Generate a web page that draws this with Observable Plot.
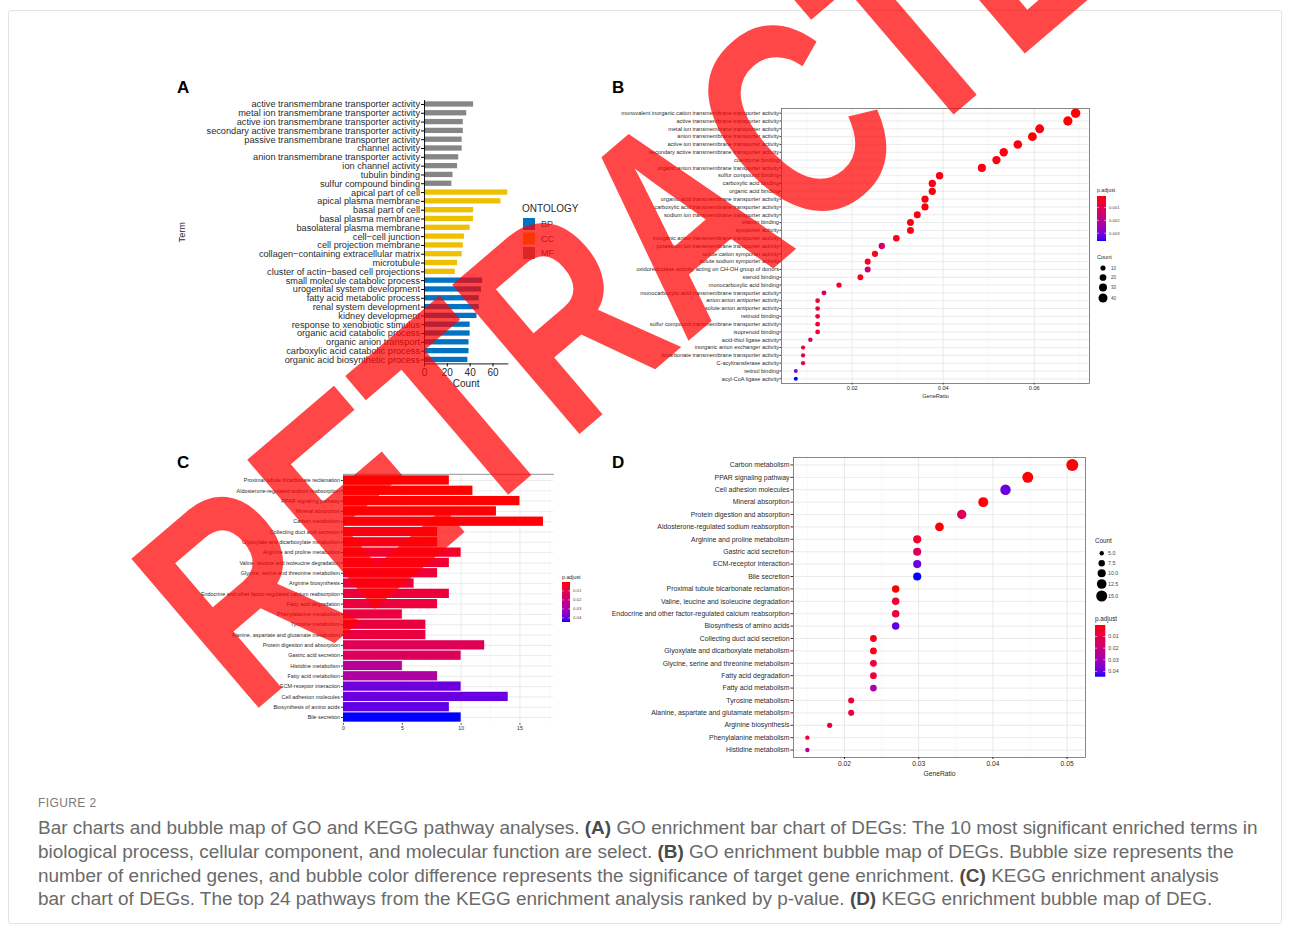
<!DOCTYPE html>
<html>
<head>
<meta charset="utf-8">
<script src="https://cdn.jsdelivr.net/npm/d3@7"></script>
<script src="https://cdn.jsdelivr.net/npm/@observablehq/plot@0.6"></script>
<style>
  body { margin: 0; background: #fff; }
  #root { position: relative; width: 1291px; height: 930px; overflow: hidden; background: #fff;
          font-family: "Liberation Sans", Arial, Helvetica, sans-serif; }
  #card { position: absolute; left: 8px; top: 10px; width: 1274px; height: 914px; border: 1px solid #e3e3e3; border-radius: 3px; box-sizing: border-box; }
  #figlabel { position: absolute; left: 38px; top: 796px; font-size: 12px; color: #7b7b7b; letter-spacing: 0.4px; }
  #caption { position: absolute; left: 38px; top: 816px; color: #6a6a6a; line-height: 23.8px; white-space: nowrap; }
  #caption b { color: #4a4a4a; }
</style>
</head>
<body>
<div id="root"><div id="card"></div></div>
<script>
// ---------------- DATA ----------------
// Panel A: GO enrichment bar chart (top to bottom)
const goTerms = [
  "active transmembrane transporter activity",
  "metal ion transmembrane transporter activity",
  "active ion transmembrane transporter activity",
  "secondary active transmembrane transporter activity",
  "passive transmembrane transporter activity",
  "channel activity",
  "anion transmembrane transporter activity",
  "ion channel activity",
  "tubulin binding",
  "sulfur compound binding",
  "apical part of cell",
  "apical plasma membrane",
  "basal part of cell",
  "basal plasma membrane",
  "basolateral plasma membrane",
  "cell\u2212cell junction",
  "cell projection membrane",
  "collagen\u2212containing extracellular matrix",
  "microtubule",
  "cluster of actin\u2212based cell projections",
  "small molecule catabolic process",
  "urogenital system development",
  "fatty acid metabolic process",
  "renal system development",
  "kidney development",
  "response to xenobiotic stimulus",
  "organic acid catabolic process",
  "organic anion transport",
  "carboxylic acid catabolic process",
  "organic acid biosynthetic process"
];
const goCounts = [43,37,34,34,33,33,30,29,25,24, 73,67,43,43,40,35,34,33,29,27, 51,50,48,48,46,40,40,39,39,38];
const goOntology = ["MF","MF","MF","MF","MF","MF","MF","MF","MF","MF",
                    "CC","CC","CC","CC","CC","CC","CC","CC","CC","CC",
                    "BP","BP","BP","BP","BP","BP","BP","BP","BP","BP"];
const ontLevels = ["BP","CC","MF"];
const ontColors = ["#0073C2","#EFC000","#868686"];
const countTicksA = [0,20,40,60];

// Panel B: GO (MF) bubble map (top to bottom)
const mfTerms = [
  "monovalent inorganic cation transmembrane transporter activity",
  "active transmembrane transporter activity",
  "metal ion transmembrane transporter activity",
  "anion transmembrane transporter activity",
  "active ion transmembrane transporter activity",
  "secondary active transmembrane transporter activity",
  "coenzyme binding",
  "organic anion transmembrane transporter activity",
  "sulfur compound binding",
  "carboxylic acid binding",
  "organic acid binding",
  "organic acid transmembrane transporter activity",
  "carboxylic acid transmembrane transporter activity",
  "sodium ion transmembrane transporter activity",
  "vitamin binding",
  "symporter activity",
  "inorganic anion transmembrane transporter activity",
  "potassium ion transmembrane transporter activity",
  "solute:cation symporter activity",
  "solute:sodium symporter activity",
  "oxidoreductase activity, acting on CH-OH group of donors",
  "steroid binding",
  "monocarboxylic acid binding",
  "monocarboxylic acid transmembrane transporter activity",
  "anion:anion antiporter activity",
  "solute:anion antiporter activity",
  "retinoid binding",
  "sulfur compound transmembrane transporter activity",
  "isoprenoid binding",
  "acid-thiol ligase activity",
  "inorganic anion exchanger activity",
  "bicarbonate transmembrane transporter activity",
  "C-acyltransferase activity",
  "retinol binding",
  "acyl-CoA ligase activity"
];
const mfRatio = [0.0691,0.0674,0.0612,0.0596,0.0564,0.0533,0.0517,0.0485,0.0392,0.0376,0.0376,0.0360,0.0360,0.0343,0.0328,0.0328,0.0297,0.0265,0.0250,0.0234,0.0234,0.0218,0.0171,0.0138,0.0124,0.0124,0.0124,0.0124,0.0124,0.0108,0.0092,0.0092,0.0092,0.0076,0.0076];
const mfCount = [44,43,39,38,36,34,33,31,25,24,24,23,23,22,21,21,19,17,16,15,15,14,11,9,8,8,8,8,8,7,6,6,6,5,5];
const mfPadj  = [0.0001,0.0001,0.0002,0.0001,0.0002,0.0002,0.0002,0.0002,0.0002,0.0002,0.0002,0.0002,0.0002,0.0002,0.0002,0.0002,0.0003,0.0013,0.0003,0.0003,0.0015,0.0003,0.0004,0.0014,0.0006,0.0006,0.0006,0.0006,0.0006,0.0013,0.0006,0.0011,0.0011,0.0027,0.0036];
const ratioTicksB = [0.02,0.04,0.06];
const ratioMinorB = [0.01,0.03,0.05,0.07];
const padjTicksB = [0.001,0.002,0.003];
const countLegendB = [10,20,30,40];

// Panel C: KEGG bar chart (top to bottom, ranked by p-value)
const keggTerms = [
  "Proximal tubule bicarbonate reclamation",
  "Aldosterone-regulated sodium reabsorption",
  "PPAR signaling pathway",
  "Mineral absorption",
  "Carbon metabolism",
  "Collecting duct acid secretion",
  "Glyoxylate and dicarboxylate metabolism",
  "Arginine and proline metabolism",
  "Valine, leucine and isoleucine degradation",
  "Glycine, serine and threonine metabolism",
  "Arginine biosynthesis",
  "Endocrine and other factor-regulated calcium reabsorption",
  "Fatty acid degradation",
  "Phenylalanine metabolism",
  "Tyrosine metabolism",
  "Alanine, aspartate and glutamate metabolism",
  "Protein digestion and absorption",
  "Gastric acid secretion",
  "Histidine metabolism",
  "Fatty acid metabolism",
  "ECM-receptor interaction",
  "Cell adhesion molecules",
  "Biosynthesis of amino acids",
  "Bile secretion"
];
const keggCount = [9,11,15,13,17,8,8,10,9,8,6,9,8,5,7,7,12,10,5,8,10,14,9,10];
const keggPadj  = [0.0001,0.0002,0.0003,0.0005,0.0006,0.0015,0.0018,0.0045,0.0055,0.0065,0.0070,0.0072,0.0075,0.0078,0.0080,0.0082,0.0125,0.0135,0.0250,0.0270,0.0385,0.0390,0.0400,0.0445];
const countTicksC = [0,5,10,15];
const countMinorC = [2.5,7.5,12.5,17.5];
const padjTicksK = [0.01,0.02,0.03,0.04];

// Panel D: KEGG bubble map (top to bottom)
const keggDotTerms = [
  "Carbon metabolism",
  "PPAR signaling pathway",
  "Cell adhesion molecules",
  "Mineral absorption",
  "Protein digestion and absorption",
  "Aldosterone-regulated sodium reabsorption",
  "Arginine and proline metabolism",
  "Gastric acid secretion",
  "ECM-receptor interaction",
  "Bile secretion",
  "Proximal tubule bicarbonate reclamation",
  "Valine, leucine and isoleucine degradation",
  "Endocrine and other factor-regulated calcium reabsorption",
  "Biosynthesis of amino acids",
  "Collecting duct acid secretion",
  "Glyoxylate and dicarboxylate metabolism",
  "Glycine, serine and threonine metabolism",
  "Fatty acid degradation",
  "Fatty acid metabolism",
  "Tyrosine metabolism",
  "Alanine, aspartate and glutamate metabolism",
  "Arginine biosynthesis",
  "Phenylalanine metabolism",
  "Histidine metabolism"
];
const keggDotRatio = [0.0507,0.0447,0.0417,0.0387,0.0358,0.0328,0.0298,0.0298,0.0298,0.0298,0.0269,0.0269,0.0269,0.0269,0.0239,0.0239,0.0239,0.0239,0.0239,0.0209,0.0209,0.0180,0.0150,0.0150];
const ratioTicksD = [0.02,0.03,0.04,0.05];
const ratioMinorD = [0.015,0.025,0.035,0.045];
const countLegendD = [5,7.5,10,12.5,15];

// ---------------- BUILD ----------------
const font = "'Liberation Sans', Arial, Helvetica, sans-serif";
const root = document.getElementById("root");
const txt = "#2b2b2b";
function place(node, left, top) {
  node.style.position = "absolute";
  node.style.left = left + "px";
  node.style.top = top + "px";
  node.style.overflow = "visible";
  root.appendChild(node);
  return node;
}
const baseStyle = (fs) => ({fontFamily: font, fontSize: fs + "px", color: txt, background: "transparent", overflow: "visible"});

// ---- A ----
const dataA = goTerms.map((term, i) => ({term, count: goCounts[i], ont: goOntology[i]}));
const plotA = Plot.plot({
  width: 345, height: 300,
  marginLeft: 249, marginRight: 12.7, marginTop: 5, marginBottom: 31.6,
  style: baseStyle(9.2),
  x: {domain: [0, 73]},
  y: {domain: goTerms, paddingInner: 0.4, paddingOuter: 0.15, round: false},
  color: {domain: ontLevels, range: ontColors},
  marks: [
    Plot.barX(dataA, {x: "count", y: "term", fill: "ont"}),
    Plot.ruleX([0], {stroke: "#000", strokeWidth: 0.9}),
    Plot.frame({anchor: "bottom", stroke: "#000", strokeWidth: 0.9}),
    Plot.axisY({tickSize: 3, tickPadding: 1.5, fontSize: 9.2, stroke: "#000", label: "Term", labelAnchor: "center", labelOffset: 246, labelArrow: "none"}),
    Plot.axisX({ticks: countTicksA, tickSize: 3, tickPadding: 1.5, fontSize: 10, stroke: "#000", label: "Count", labelAnchor: "center", labelOffset: 23, labelArrow: "none"})
  ]
});
place(plotA, 175, 95);

// ---- B ----
const pDomainB = d3.extent(mfPadj);
const rOptsB = {type: "sqrt", domain: [5, 44], range: [2, 4.7]};
const dataB = mfTerms.map((term, i) => ({term, ratio: mfRatio[i], count: mfCount[i], p: mfPadj[i]}));
const plotB = Plot.plot({
  width: 505, height: 305,
  marginLeft: 191, marginRight: 6, marginTop: 8, marginBottom: 22,
  style: baseStyle(5.6),
  x: {domain: [0.00446, 0.07215]},
  y: {type: "point", domain: mfTerms, padding: 0.6, round: false},
  r: rOptsB,
  color: {type: "linear", domain: pDomainB, range: ["red", "blue"], interpolate: "lab"},
  marks: [
    Plot.gridX({ticks: ratioMinorB, stroke: "#f2f2f2", strokeOpacity: 1, strokeWidth: 0.5}),
    Plot.gridX({ticks: ratioTicksB, stroke: "#e6e6e6", strokeOpacity: 1, strokeWidth: 0.8}),
    Plot.gridY({stroke: "#e6e6e6", strokeOpacity: 1, strokeWidth: 0.8}),
    Plot.frame({stroke: "#555", strokeWidth: 0.7}),
    Plot.axisY({tickSize: 1.5, tickPadding: 1, fontSize: 5.6, stroke: "#333", label: null}),
    Plot.axisX({ticks: ratioTicksB, tickFormat: d3.format(".2f"), tickSize: 1.5, tickPadding: 1, fontSize: 5.6, stroke: "#333",
                label: "GeneRatio", labelAnchor: "center", labelOffset: 14, labelArrow: "none"}),
    Plot.dot(dataB, {x: "ratio", y: "term", r: "count", fill: "p", stroke: null})
  ]
});
place(plotB, 590, 100);

// ---- C ----
const pDomainK = d3.extent(keggPadj);
const dataC = keggTerms.map((term, i) => ({term, count: keggCount[i], p: keggPadj[i]}));
const plotC = Plot.plot({
  width: 390, height: 275,
  marginLeft: 173, marginRight: 7, marginTop: 8.8, marginBottom: 16.8,
  style: baseStyle(5.4),
  x: {domain: [0, 17.85]},
  y: {domain: keggTerms, paddingInner: 0.1, paddingOuter: 0.15, round: false},
  color: {type: "linear", domain: pDomainK, range: ["red", "blue"], interpolate: "lab"},
  marks: [
    Plot.gridX({ticks: countMinorC, stroke: "#f2f2f2", strokeOpacity: 1, strokeWidth: 0.5}),
    Plot.gridX({ticks: countTicksC, stroke: "#e6e6e6", strokeOpacity: 1, strokeWidth: 0.8}),
    Plot.gridY({stroke: "#e6e6e6", strokeOpacity: 1, strokeWidth: 0.8}),
    Plot.barX(dataC, {x: "count", y: "term", fill: "p"}),
    Plot.frame({anchor: "top", stroke: "#888", strokeWidth: 0.9}),
    Plot.axisY({tickSize: 2, tickPadding: 1.5, fontSize: 5.4, stroke: "#333", label: null}),
    Plot.axisX({ticks: countTicksC, tickSize: 1.5, tickPadding: 1.5, fontSize: 5.2, stroke: "#333", label: null})
  ]
});
place(plotC, 170, 465);

// ---- D ----
const keggIndex = new Map(keggTerms.map((t, i) => [t, i]));
const dataD = keggDotTerms.map((term, i) => ({term, ratio: keggDotRatio[i], count: keggCount[keggIndex.get(term)], p: keggPadj[keggIndex.get(term)]}));
const rOptsD = {type: "sqrt", domain: [5, 17], range: [2.2, 6]};
const plotD = Plot.plot({
  width: 510, height: 330,
  marginLeft: 213, marginRight: 5, marginTop: 7, marginBottom: 23,
  style: baseStyle(6.9),
  x: {domain: [0.01313, 0.05248]},
  y: {type: "point", domain: keggDotTerms, padding: 0.6, round: false},
  r: rOptsD,
  color: {type: "linear", domain: pDomainK, range: ["red", "blue"], interpolate: "lab"},
  marks: [
    Plot.gridX({ticks: ratioMinorD, stroke: "#f2f2f2", strokeOpacity: 1, strokeWidth: 0.5}),
    Plot.gridX({ticks: ratioTicksD, stroke: "#e6e6e6", strokeOpacity: 1, strokeWidth: 0.8}),
    Plot.gridY({stroke: "#e6e6e6", strokeOpacity: 1, strokeWidth: 0.8}),
    Plot.frame({stroke: "#555", strokeWidth: 0.7}),
    Plot.axisY({tickSize: 2.5, tickPadding: 1.5, fontSize: 6.9, stroke: "#333", label: null}),
    Plot.axisX({ticks: ratioTicksD, tickFormat: d3.format(".2f"), tickSize: 2, tickPadding: 1.5, fontSize: 6.7, stroke: "#333",
                label: "GeneRatio", labelAnchor: "center", labelOffset: 18, labelArrow: "none"}),
    Plot.dot(dataD, {x: "ratio", y: "term", r: "count", fill: "p", stroke: null})
  ]
});
place(plotD, 580, 450);

// ---------------- LEGENDS & PANEL LETTERS ----------------
const deco = d3.create("svg").attr("width", 1291).attr("height", 930)
  .style("font-family", font).style("pointer-events", "none");
place(deco.node(), 0, 0);
let gradId = 0;
function colorbar({x, y, w, h, domain, ticks, fmt, title, fs, titleY}) {
  const id = "grad" + (gradId++);
  const interp = d3.interpolateLab("red", "blue");
  const g = deco.append("defs").append("linearGradient").attr("id", id)
    .attr("x1", 0).attr("y1", 0).attr("x2", 0).attr("y2", 1);
  d3.range(0, 21).forEach(i => g.append("stop").attr("offset", i / 20).attr("stop-color", interp(i / 20)));
  deco.append("text").attr("x", x).attr("y", titleY).attr("font-size", fs + 1).attr("fill", txt).text(title);
  deco.append("rect").attr("x", x).attr("y", y).attr("width", w).attr("height", h).attr("fill", `url(#${id})`);
  const s = d3.scaleLinear(domain, [y, y + h]);
  ticks.forEach(t => {
    const yy = s(t);
    deco.append("line").attr("x1", x).attr("x2", x + w * 0.2).attr("y1", yy).attr("y2", yy).attr("stroke", "#fff").attr("stroke-width", 0.6);
    deco.append("line").attr("x1", x + w * 0.8).attr("x2", x + w).attr("y1", yy).attr("y2", yy).attr("stroke", "#fff").attr("stroke-width", 0.6);
    deco.append("text").attr("x", x + w + 3).attr("y", yy).attr("dy", "0.35em").attr("font-size", fs).attr("fill", "#444").text(fmt(t));
  });
}
function sizeLegend({x, ys, values, rOpts, fmt, title, fs, titleX, titleY, labelX}) {
  const r = d3.scaleSqrt(rOpts.domain, rOpts.range);
  deco.append("text").attr("x", titleX).attr("y", titleY).attr("font-size", fs + 1).attr("fill", txt).text(title);
  values.forEach((v, i) => {
    deco.append("circle").attr("cx", x).attr("cy", ys[i]).attr("r", r(v)).attr("fill", "#000");
    deco.append("text").attr("x", labelX).attr("y", ys[i]).attr("dy", "0.35em").attr("font-size", fs).attr("fill", "#444").text(fmt(v));
  });
}

// Panel A legend
deco.append("text").attr("x", 522).attr("y", 212).attr("font-size", 10).attr("fill", txt).text("ONTOLOGY");
ontLevels.forEach((o, i) => {
  const cy = 224 + i * 14.5;
  deco.append("rect").attr("x", 523).attr("y", cy - 6).attr("width", 12).attr("height", 12).attr("fill", ontColors[i]);
  deco.append("text").attr("x", 541).attr("y", cy).attr("dy", "0.35em").attr("font-size", 9).attr("fill", "#444").text(o);
});

// Panel B legends
colorbar({x: 1097, y: 196, w: 9, h: 45, domain: pDomainB, ticks: padjTicksB, fmt: d3.format(".3f"), title: "p.adjust", fs: 4.2, titleY: 192});
sizeLegend({x: 1103, ys: [268, 277.5, 287.5, 298], values: countLegendB, rOpts: rOptsB, fmt: d3.format("d"), title: "Count", fs: 4.5, titleX: 1097, titleY: 259, labelX: 1111});

// Panel C legend
colorbar({x: 562, y: 582, w: 8, h: 40, domain: pDomainK, ticks: padjTicksK, fmt: d3.format(".2f"), title: "p.adjust", fs: 4.3, titleY: 579});

// Panel D legends
sizeLegend({x: 1101.7, ys: [553.3, 563.3, 573.3, 584, 596], values: countLegendD, rOpts: rOptsD, fmt: d3.format(".1f"), title: "Count", fs: 5.3, titleX: 1095, titleY: 543, labelX: 1108});
colorbar({x: 1095, y: 625, w: 10.3, h: 51.7, domain: pDomainK, ticks: padjTicksK, fmt: d3.format(".2f"), title: "p.adjust", fs: 5.3, titleY: 621});

// Panel letters
[["A", 177, 93], ["B", 612, 93], ["C", 177, 468], ["D", 612, 468]].forEach(([l, x, y]) =>
  deco.append("text").attr("x", x).attr("y", y).attr("font-size", 17).attr("font-weight", "bold").attr("fill", "#000").text(l));

// ---------------- CAPTION ----------------
const figlabel = document.createElement("div");
figlabel.id = "figlabel"; figlabel.textContent = "FIGURE 2";
root.appendChild(figlabel);
const caption = document.createElement("div");
caption.id = "caption";
caption.innerHTML = [
  "Bar charts and bubble map of GO and KEGG pathway analyses. <b>(A)</b> GO enrichment bar chart of DEGs: The 10 most significant enriched terms in",
  "biological process, cellular component, and molecular function are select. <b>(B)</b> GO enrichment bubble map of DEGs. Bubble size represents the",
  "number of enriched genes, and bubble color difference represents the significance of target gene enrichment. <b>(C)</b> KEGG enrichment analysis",
  "bar chart of DEGs. The top 24 pathways from the KEGG enrichment analysis ranked by p-value. <b>(D)</b> KEGG enrichment bubble map of DEG."
].map(s => `<span>${s}</span>`).join("<br>");
caption.style.fontSize = "17px";
root.appendChild(caption);
const firstLine = caption.querySelector("span");
const w0 = firstLine.getBoundingClientRect().width;
caption.style.fontSize = (17 * 1220 / w0) + "px";

// ---------------- WATERMARK ----------------
const wm = d3.create("svg").attr("width", 1291).attr("height", 930).style("pointer-events", "none");
wm.append("text")
  .attr("transform", "translate(248,717) rotate(-40.5) scale(0.74,1)")
  .attr("font-family", font).attr("font-weight", "bold").attr("font-size", 285)
  .attr("fill", "#ff0000").attr("fill-opacity", 0.72)
  .text("RETRACTED");
place(wm.node(), 0, 0);
</script>
</body>
</html>
